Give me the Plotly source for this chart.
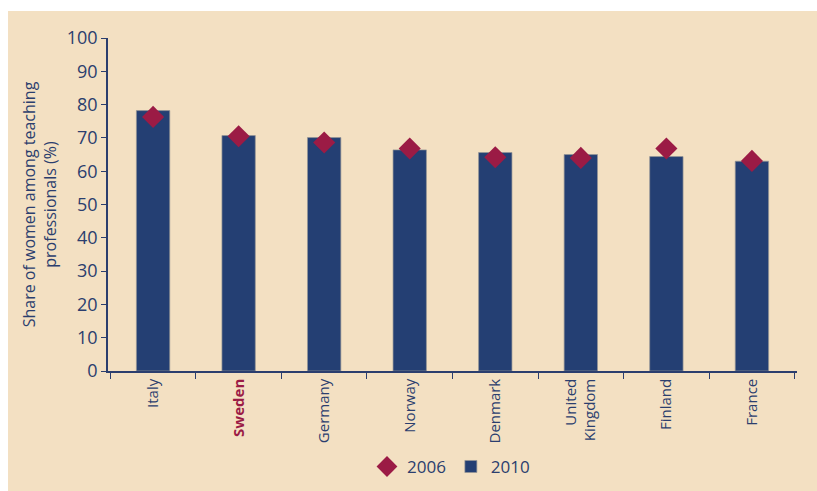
import plotly.graph_objects as go

countries = ["Italy", "Sweden", "Germany", "Norway", "Denmark", "United Kingdom", "Finland", "France"]
tick_labels = ["Italy", "<b><span style='color:#9B1B45'>Sweden</span></b>", "Germany", "Norway",
               "Denmark", "United<br>Kingdom", "Finland", "France"]
values_2010 = [78.2, 70.7, 70.1, 66.4, 65.6, 65.0, 64.4, 63.0]
values_2006 = [76.3, 70.5, 68.6, 66.8, 64.2, 64.0, 66.8, 63.1]

NAVY = "#243F73"
CRIMSON = "#9B1B45"
BEIGE = "#F3E0C2"
TEXT = "#2B3E6E"
FONT = "Open Sans"

fig = go.Figure()
fig.add_trace(go.Bar(
    x=countries, y=values_2010, name="2010", width=0.39,
    marker=dict(color=NAVY, line=dict(color="rgba(150,150,150,0.7)", width=1)),
    legendrank=2,
))
fig.add_trace(go.Scatter(
    x=countries, y=values_2006, name="2006", mode="markers",
    marker=dict(symbol="diamond", size=17, color=CRIMSON),
    legendrank=1,
))

fig.update_layout(
    width=817, height=491,
    margin=dict(l=108, r=20, t=38, b=120, autoexpand=False),
    paper_bgcolor="white",
    plot_bgcolor="rgba(0,0,0,0)",
    font=dict(family=FONT, color=TEXT, size=16),
    showlegend=True,
    legend=dict(orientation="h", x=0.552, xref="container", xanchor="center",
                y=0.049, yref="container", yanchor="middle",
                font=dict(size=17, color=TEXT), bgcolor="rgba(0,0,0,0)",
                itemwidth=30, tracegroupgap=0, traceorder="normal"),
    shapes=[dict(type="rect", xref="paper", yref="paper",
                 x0=-0.1451, x1=1.1, y0=-0.5, y1=1.081,
                 fillcolor=BEIGE, line=dict(width=0), layer="below")],
)
fig.update_xaxes(
    type="category", categoryorder="array", categoryarray=countries,
    tickvals=countries, ticktext=tick_labels, tickangle=-90,
    tickson="boundaries", ticks="outside", ticklen=6, tickcolor=TEXT, tickwidth=1,
    showline=True, linecolor=TEXT, linewidth=1.5, showgrid=False, automargin=False,
    tickfont=dict(size=15, color=TEXT, family=FONT),
)
fig.update_yaxes(
    range=[0, 100], dtick=10, ticks="outside", ticklen=5, tickcolor=TEXT, tickwidth=1,
    showline=True, linecolor=TEXT, linewidth=1.5, showgrid=False, zeroline=False, automargin=False,
    tickfont=dict(size=18, color=TEXT, family=FONT),
    title=dict(text="Share of women among teaching<br>professionals (%)",
               font=dict(size=16, color=TEXT, family=FONT), standoff=6),
)

fig.write_html("out.html", config={"displayModeBar": False},
               post_script="document.body.style.margin='0';")
